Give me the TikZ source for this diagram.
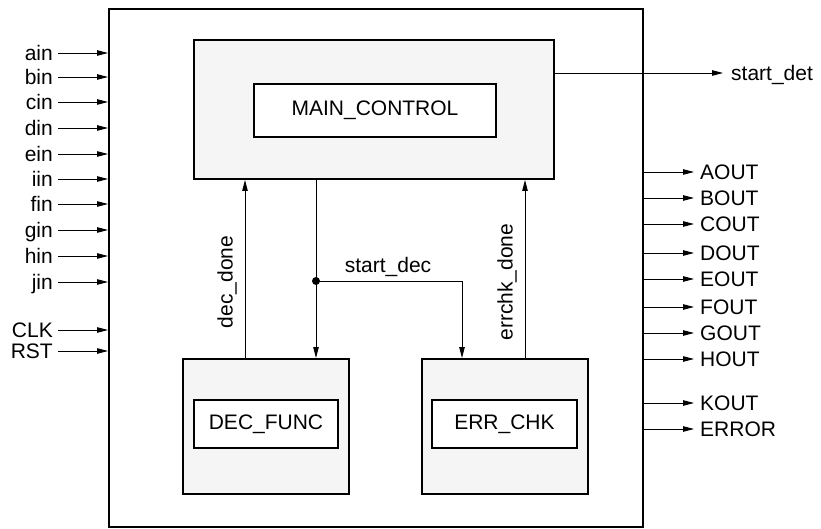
\documentclass[tikz,border=0pt]{standalone}
\usepackage{fontspec}
\setmainfont{Liberation Sans}
\usetikzlibrary{arrows.meta,calc}
\begin{document}
\begin{tikzpicture}[x=1pt,y=-1pt,
  font=\fontsize{21}{23}\selectfont,
  frame/.style={draw,line width=2.3pt,fill=white},
  block/.style={draw,line width=2pt,fill=black!4,anchor=north west,inner sep=0pt},
  inblock/.style={draw,line width=2pt,fill=white,anchor=north west,inner sep=0pt},
  lbl/.style={inner sep=0pt},
  pin/.style={inner sep=0pt,text height=15pt,text depth=0pt},
  conn/.style={line width=0.9pt},
  arr/.style={conn,-{Triangle[length=11pt,width=5.5pt]}}]
\useasboundingbox (0,0) rectangle (821,529);
% outer frame
\node[frame,anchor=north west,inner sep=0pt,minimum width=534pt,minimum height=518pt] (outer) at (108,8) {};
% main control
\node[block,minimum width=360pt,minimum height=139pt] (main) at (193,39) {};
\node[inblock,minimum width=242pt,minimum height=53pt] (mainin) at (253,83) {};
\node[lbl] (maint) at (mainin.center) {MAIN\_CONTROL};
% dec func
\node[block,minimum width=166pt,minimum height=135pt] (dec) at (182,358) {};
\node[inblock,minimum width=144pt,minimum height=48pt] (decin) at (193,399) {};
\node[lbl] (dect) at (decin.center) {DEC\_FUNC};
% err chk
\node[block,minimum width=166pt,minimum height=135pt] (err) at (421,358) {};
\node[inblock,minimum width=145pt,minimum height=48pt] (errin) at (431,399) {};
\node[lbl] (errt) at (errin.center) {ERR\_CHK};
% internal connectors
\coordinate (xdd) at (245,0);
\coordinate (xsd) at (316,0);
\coordinate (xed) at (525,0);
\coordinate (xes) at (462,0);
\coordinate (jn) at (316,281);
\draw[arr] (dec.north -| xdd) -- (main.south -| xdd);
\draw[arr] (err.north -| xed) -- (main.south -| xed);
\draw[arr] (main.south -| xsd) -- (dec.north -| xsd);
\draw[arr] (jn) -| (err.north -| xes);
\fill (jn) circle (4pt);
\node[lbl,rotate=90] (ddl) at (227,282) {dec\_done};
\node[lbl,rotate=90] (edl) at (507,282) {errchk\_done};
\node[lbl] (sdl) at (388,267) {start\_dec};
% start_det
\node[pin,anchor=west] (sdet) at (731,73) {start\_det};
\draw[arr] (main.east |- sdet) -- ($(sdet.west)+(-8,0)$);
% inputs
\foreach \n/\t/\y in {ain/ain/53,bin/bin/77,cin/cin/102,din/din/128,ein/ein/154,iin/iin/179,fin/fin/204,gin/gin/230,hin/hin/256,jin/jin/282,clk/CLK/330,rst/RST/351}{
  \node[pin,anchor=east] (\n) at (53,\y) {\t};
  \draw[arr] ($(\n.east)+(5,0)$) -- (\n.east -| outer.west);
}
% outputs
\foreach \n/\t/\y in {aout/AOUT/172,bout/BOUT/198,cout/COUT/224,dout/DOUT/253,eout/EOUT/279,fout/FOUT/307,gout/GOUT/333,hout/HOUT/359,kout/KOUT/403,error/ERROR/429}{
  \node[pin,anchor=west] (\n) at (700,\y) {\t};
  \draw[arr] (outer.east |- \n.west) -- ($(\n.west)+(-6,0)$);
}
\end{tikzpicture}
\end{document}
